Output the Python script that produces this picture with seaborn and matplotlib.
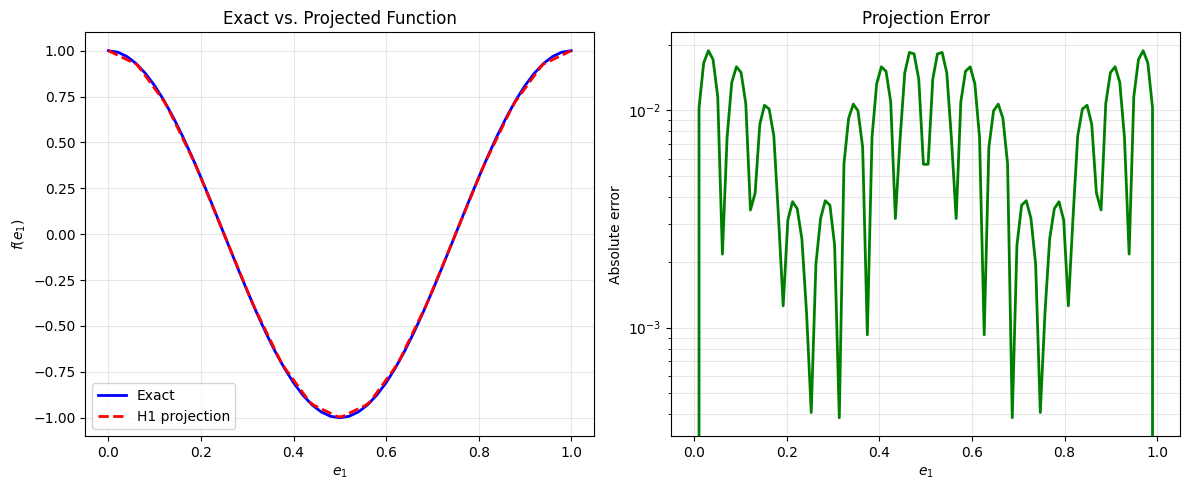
import numpy as np
import matplotlib
matplotlib.use("Agg")
import matplotlib.pyplot as plt
import seaborn as sns

# exact function, sampled on 51 points
x_exact = np.linspace(0, 1, 51)
f_exact = [1.0, 0.99211, 0.96858, 0.92978, 0.87631, 0.80902, 0.72897, 0.63742, 0.53583, 0.42578,
           0.30902, 0.18738, 0.06279, -0.06279, -0.18738, -0.30902, -0.42578, -0.53583, -0.63742, -0.72897,
           -0.80902, -0.87631, -0.92978, -0.96858, -0.99211, -1.0, -0.99211, -0.96858, -0.92978, -0.87631,
           -0.80902, -0.72897, -0.63742, -0.53583, -0.42578, -0.30902, -0.18738, -0.06279, 0.06279, 0.18738,
           0.30902, 0.42578, 0.53583, 0.63742, 0.72897, 0.80902, 0.87631, 0.92978, 0.96858, 0.99211, 1.0]

# evaluation grid (100 points) for projection and error
x_eval = np.linspace(0, 1, 100)

# H1 projection evaluated on the grid
f_proj = [1.0, 0.98770, 0.97540, 0.96310, 0.95079, 0.93849, 0.92619, 0.89542, 0.86039, 0.82536,
          0.79031, 0.75528, 0.72025, 0.67434, 0.62191, 0.56949, 0.51703, 0.46460, 0.41217, 0.35562,
          0.29378, 0.23194, 0.17006, 0.10822, 0.04638, -0.01546, -0.07730, -0.13914, -0.20102, -0.26286,
          -0.32470, -0.38596, -0.43839, -0.49082, -0.54324, -0.59570, -0.64813, -0.70056, -0.73776, -0.77279,
          -0.80782, -0.84287, -0.87790, -0.91293, -0.93234, -0.94464, -0.95694, -0.96925, -0.98155, -0.99385,
          -0.99385, -0.98155, -0.96925, -0.95694, -0.94464, -0.93234, -0.91293, -0.87790, -0.84287, -0.80782,
          -0.77279, -0.73776, -0.70056, -0.64813, -0.59570, -0.54324, -0.49082, -0.43839, -0.38596, -0.32470,
          -0.26286, -0.20102, -0.13914, -0.07730, -0.01546, 0.04638, 0.10822, 0.17006, 0.23194, 0.29378,
          0.35562, 0.41217, 0.46460, 0.51703, 0.56949, 0.62191, 0.67434, 0.72025, 0.75528, 0.79031,
          0.82536, 0.86039, 0.89542, 0.92619, 0.93849, 0.95079, 0.96310, 0.97540, 0.98770, 1.0]

# absolute error on the grid
abs_err = [0.0, 0.01029, 0.01655, 0.01883, 0.01715, 0.01157, 0.00218, 0.00751, 0.01346, 0.01589,
           0.01493, 0.01075, 0.00348, 0.00417, 0.00863, 0.01056, 0.01015, 0.00763, 0.00322, 0.00126,
           0.00313, 0.00380, 0.00353, 0.00256, 0.00117, 0.000407, 0.00196, 0.00318, 0.00384, 0.00366,
           0.00240, 0.000385, 0.00568, 0.00920, 0.01069, 0.00995, 0.00677, 0.000927, 0.00751, 0.01327,
           0.01587, 0.01514, 0.01096, 0.00318, 0.00736, 0.01486, 0.01849, 0.01820, 0.01393, 0.00565,
           0.00565, 0.01393, 0.01820, 0.01849, 0.01486, 0.00736, 0.00318, 0.01096, 0.01514, 0.01587,
           0.01327, 0.00751, 0.000927, 0.00677, 0.00995, 0.01069, 0.00920, 0.00568, 0.000385, 0.00240,
           0.00366, 0.00384, 0.00318, 0.00196, 0.000407, 0.00117, 0.00256, 0.00353, 0.00380, 0.00313,
           0.00126, 0.00322, 0.00763, 0.01015, 0.01056, 0.00863, 0.00417, 0.00348, 0.01075, 0.01493,
           0.01589, 0.01346, 0.00751, 0.00218, 0.01157, 0.01715, 0.01883, 0.01655, 0.01029, 0.0]

fig, (ax1, ax2) = plt.subplots(1, 2, figsize=(11.89, 4.9), dpi=100)

# left: exact vs projection
sns.lineplot(x=x_exact, y=f_exact, ax=ax1, color="blue", linewidth=2, label="Exact")
sns.lineplot(x=x_eval, y=f_proj, ax=ax1, color="red", linewidth=2, linestyle="--", label="H1 projection")
ax1.set_title("Exact vs. Projected Function")
ax1.set_xlabel("$e_1$")
ax1.set_ylabel("$f(e_1)$")
ax1.legend(loc="lower left")
ax1.grid(True, alpha=0.3)

# right: error on log scale
sns.lineplot(x=x_eval, y=abs_err, ax=ax2, color="green", linewidth=2)
ax2.set_yscale("log")
ax2.set_title("Projection Error")
ax2.set_xlabel("$e_1$")
ax2.set_ylabel("Absolute error")
ax2.grid(True, which="both", alpha=0.3)

plt.subplots_adjust(left=0.0717, right=0.9927, bottom=0.110, top=0.934, wspace=0.151)
plt.savefig("out.png")
